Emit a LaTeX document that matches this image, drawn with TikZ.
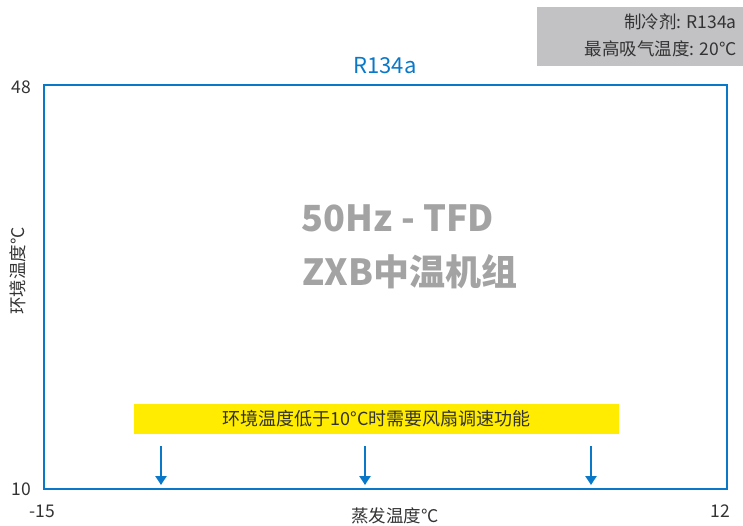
\documentclass[tikz,border=0pt]{standalone}
\usepackage{xcolor}
\usepackage{fontspec}
\setmainfont{Noto Sans CJK SC}
\usetikzlibrary{arrows.meta, positioning}

\definecolor{chartblue}{HTML}{0A78C8}
\definecolor{notegray}{HTML}{C2C2C5}
\definecolor{titlegray}{HTML}{A3A3A3}
\definecolor{labeltext}{HTML}{333333}
\definecolor{warnyellow}{HTML}{FFEC00}

\begin{document}
\begin{tikzpicture}[x=1pt, y=-1pt]
\tikzstyle{axislabel} = [text=labeltext, font=\fontsize{17.5}{20}\selectfont, inner sep=0pt]
\tikzstyle{fanarrow} = [chartblue, line width=2.6pt, -{Triangle[length=9pt, width=11pt]}]

\useasboundingbox (0,0) rectangle (743,525);

% refrigerant note, top right
\node (note) [fill=notegray, minimum width=206pt, minimum height=59pt, anchor=north west] at (537,7) {};
\node (noteA) [axislabel, anchor=east] at (737,22) {制冷剂: R134a};
\node (noteB) [axislabel, anchor=east] at (737,49) {最高吸气温度: 20°C};

% plot frame
\node (plot) [draw=chartblue, line width=2.6pt, minimum width=683pt, minimum height=404pt, inner sep=0pt] at (385.5,287) {};
\node (title) [text=chartblue, font=\fontsize{22}{25}\selectfont, inner sep=0pt] at (385,66) {R134a};

% axis values
\node (ymax) [axislabel, anchor=east] at (31,87) {48};
\node (ymin) [axislabel, anchor=east] at (31,489) {10};
\node (xmin) [axislabel] at (42,511) {-15};
\node (xmax) [axislabel] at (720,511) {12};
\node (xname) [axislabel] at (395,516) {蒸发温度°C};
\node (yname) [axislabel, rotate=90] at (18,271) {环境温度°C};

% watermark text
\node (unitA) [text=titlegray, font=\fontsize{36}{40}\selectfont\bfseries, inner sep=0pt] at (398,218) {50Hz - TFD};
\node (unitB) [text=titlegray, font=\fontsize{36}{40}\selectfont\bfseries, inner sep=0pt] at (410,272) {ZXB中温机组};

% fan speed control band
\node (band) [fill=warnyellow, minimum width=485pt, minimum height=30pt, inner sep=0pt, text=labeltext, font=\fontsize{18}{20}\selectfont] at (376.5,419) {环境温度低于10°C时需要风扇调速功能};

\coordinate (topA) at (161,446);
\coordinate (topB) at (365,446);
\coordinate (topC) at (591,446);
\coordinate (endA) at (161,485);
\coordinate (endB) at (365,485);
\coordinate (endC) at (591,485);

\draw [fanarrow] (topA) -- (endA);
\draw [fanarrow] (topB) -- (endB);
\draw [fanarrow] (topC) -- (endC);

\end{tikzpicture}
\end{document}
